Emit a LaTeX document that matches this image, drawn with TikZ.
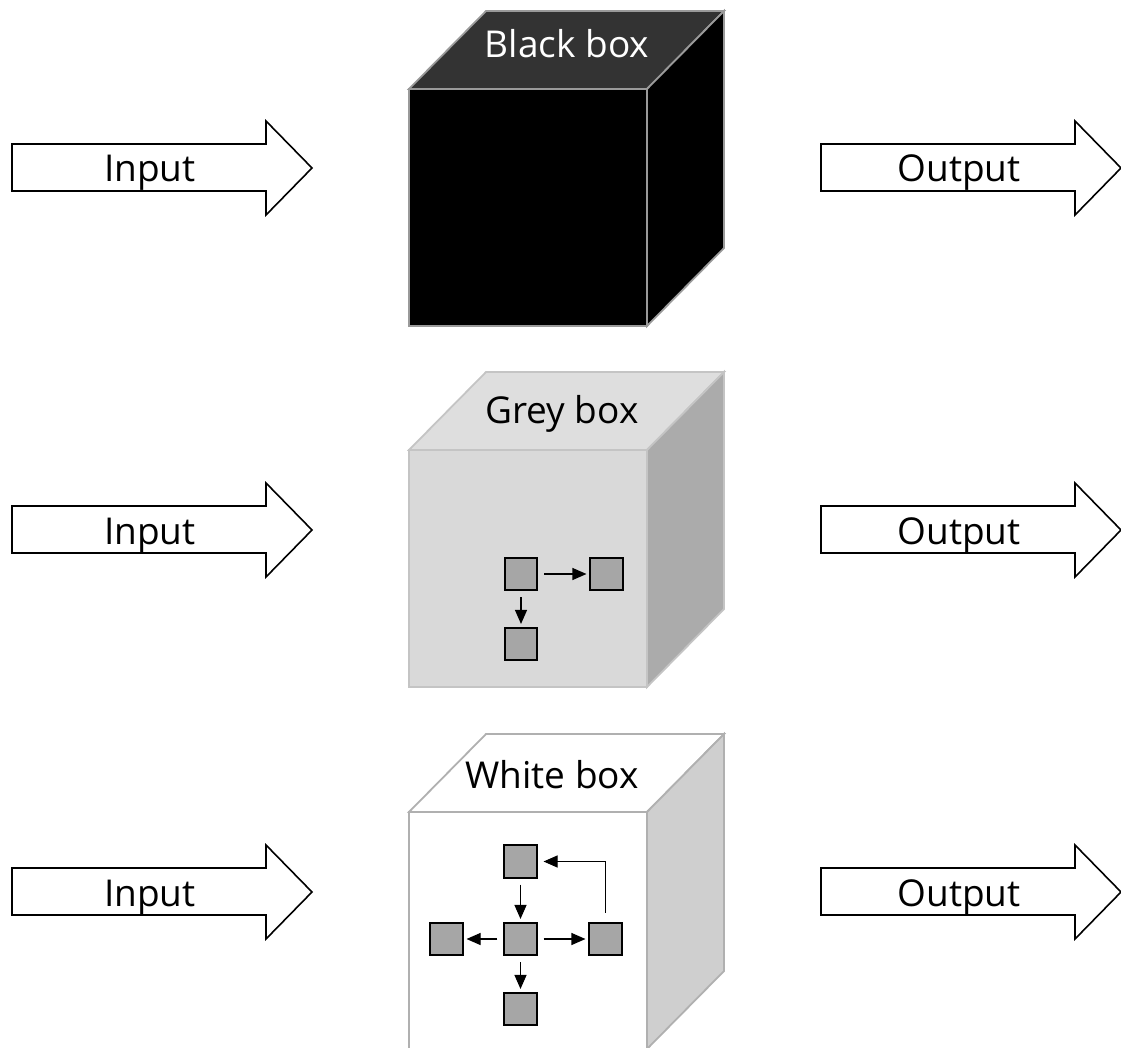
\documentclass[tikz,border=0pt]{standalone}
\usepackage{fontspec}
\setmainfont{Open Sans}
\usetikzlibrary{arrows.meta}
\definecolor{blacktop}{HTML}{333333}
\definecolor{blackedge}{HTML}{9A9A9A}
\definecolor{greyfront}{HTML}{D9D9D9}
\definecolor{greytop}{HTML}{DEDEDE}
\definecolor{greyright}{HTML}{ABABAB}
\definecolor{greyedge}{HTML}{C4C4C4}
\definecolor{whiteright}{HTML}{CFCFCF}
\definecolor{whiteedge}{HTML}{B0B0B0}
\definecolor{sqfill}{HTML}{A6A6A6}
\tikzset{
  bigarrow/.style={draw=black, line width=1.6pt, fill=white, line join=miter},
  arrowlabel/.style={font=\fontsize{37}{44}\selectfont, anchor=base, inner sep=0pt},
  boxlabel/.style={font=\fontsize{37}{44}\selectfont, anchor=base, inner sep=0pt},
  cubeedge/.style={line width=1.8pt, line join=miter},
  sq/.style={draw=black, line width=1.6pt, fill=sqfill, minimum size=32.5pt, inner sep=0pt},
  link/.style={line width=1.1pt, -{Triangle[length=14pt,width=12pt]}, shorten <=6pt, shorten >=3pt}
}
\newcommand\drawbigarrow[2]{% x offset, y offset
  \draw[bigarrow] (12+#1,144+#2) -- (266+#1,144+#2) -- (266+#1,121+#2) -- (312+#1,168+#2)
    -- (266+#1,215+#2) -- (266+#1,191+#2) -- (12+#1,191+#2) -- cycle;
}
\newcommand\drawcube[5]{% y offset, front, top, right, edge
  \draw[cubeedge, draw=#5, fill=#2] (409,89+#1) rectangle (647,326+#1);
  \draw[cubeedge, draw=#5, fill=#3] (409,89+#1) -- (486,11+#1) -- (724,11+#1) -- (647,89+#1) -- cycle;
  \draw[cubeedge, draw=#5, fill=#4] (647,89+#1) -- (724,11+#1) -- (724,248+#1) -- (647,326+#1) -- cycle;
}
\begin{document}
\begin{tikzpicture}[x=1pt,y=-1pt]
\useasboundingbox (0,0) rectangle (1121,1048);
\begin{scope}
\clip (0,0) rectangle (1121,1048);
% arrows
\foreach \dy in {0,362,724} {
  \drawbigarrow{0}{\dy}
  \drawbigarrow{809}{\dy}
}
\node[arrowlabel] (in1) at (150,182) {Input};
\node[arrowlabel] (in2) at (150,544) {Input};
\node[arrowlabel] (in3) at (150,906) {Input};
\node[arrowlabel] (out1) at (959,182) {Output};
\node[arrowlabel] (out2) at (959,544) {Output};
\node[arrowlabel] (out3) at (959,906) {Output};
% cubes
\drawcube{0}{black}{blacktop}{black}{blackedge}
\drawcube{361}{greyfront}{greytop}{greyright}{greyedge}
\drawcube{723}{white}{white}{whiteright}{whiteedge}
\node[boxlabel, text=white] (lb) at (567,58) {Black box};
\node[boxlabel] (lg) at (562,423) {Grey box};
\node[boxlabel] (lw) at (552,788) {White box};
% grey box internals
\node[sq] (g1) at (521,574) {};
\node[sq] (g2) at (606.5,574) {};
\node[sq] (g3) at (521,644) {};
\draw[link] (g1) -- (g2);
\draw[link] (g1) -- (g3);
% white box internals
\node[sq] (wc) at (520.5,939) {};
\node[sq] (wt) at (520.5,861.5) {};
\node[sq] (wl) at (446.5,939) {};
\node[sq] (wr) at (605.5,939) {};
\node[sq] (wb) at (520.5,1009) {};
\draw[link] (wt) -- (wc);
\draw[link] (wc) -- (wl);
\draw[link] (wc) -- (wr);
\draw[link] (wc) -- (wb);
\draw[link, shorten <=9pt, shorten >=6pt] (wr.north) |- (wt.east);
\end{scope}
\end{tikzpicture}
\end{document}
